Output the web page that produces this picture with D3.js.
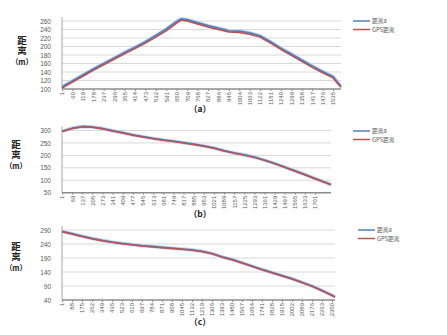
<!DOCTYPE html>
<html><head><meta charset="utf-8">
<script src="https://cdn.jsdelivr.net/npm/d3@7"></script>
<style>body{margin:0;background:#fff}svg{display:block}</style>
</head><body>
<svg id="c" width="447" height="335"></svg>
<script>
// ---------- data ----------
const seriesNames = ["距离a", "GPS距离"];
const yLabelMain = "距离";
const yLabelUnit = "（m）";

// (a)
const aTicks = [1,60,119,178,237,296,355,414,473,532,591,650,709,768,827,886,945,1004,1063,1122,1181,1240,1299,1358,1417,1476,1535];
const aIdx   = [1,60,119,178,237,296,355,414,473,532,591,650,676,709,768,827,886,945,1004,1063,1122,1181,1240,1299,1358,1417,1476,1535,1580];
const aDist  = [105,119,133,147,160,173,186,198,211,226,241,259,265,263,256,249,243,237,236,232,225,211,196,182,168,154,141,129,106];
const aGps   = [102,116,130,144,157,170,183,195,208,222,237,255,262,260,253,246,240,234,233,229,222,208,193,179,165,151,138,126,104];
const aYTicks = [100,120,140,160,180,200,220,240,260];

// (b)
const bTicks = [1,69,137,205,273,341,409,477,545,613,681,749,817,885,953,1021,1089,1157,1225,1293,1361,1429,1497,1565,1633,1701];
const bIdx   = [1,69,137,205,273,341,409,477,545,613,681,749,817,885,953,1021,1089,1157,1225,1293,1361,1429,1497,1565,1633,1701,1808];
const bDist  = [297,309,316,314,308,299,291,282,275,268,262,257,251,245,238,230,219,210,202,193,181,168,153,138,123,107,83];
const bGps   = [296,308,315,313,307,298,290,281,274,267,261,256,250,244,237,229,218,209,201,192,180,167,152,137,122,106,82];
const bYTicks = [50,100,150,200,250,300];

// (c)
const cTicks = [1,88,175,262,349,436,523,610,697,784,871,958,1045,1132,1219,1306,1393,1480,1567,1654,1741,1828,1915,2002,2089,2176,2263,2350];
const cIdx   = [1,88,175,262,349,436,523,610,697,784,871,958,1045,1132,1219,1306,1393,1480,1567,1654,1741,1828,1915,2002,2089,2176,2263,2350,2376];
const cDist  = [285,277,268,260,253,247,242,238,234,231,228,225,222,219,214,206,194,185,173,161,149,138,127,116,103,90,74,57,51];
const cGps   = [284,276,267,259,252,246,241,237,233,230,227,224,221,218,213,205,193,184,172,160,148,137,126,115,102,89,73,56,50];
const cYTicks = [40,90,140,190,240,290];

const captions = ["（a）", "（b）", "（c）"];

// ---------- layout ----------
const panels = [
  {ticks:aTicks, idx:aIdx, dist:aDist, gps:aGps, yt:aYTicks, x0:62, x1:341, yTop:21, yBot:89, cap:captions[0], capY:112, labX:22, labY:41, legX:353, legY:21},
  {ticks:bTicks, idx:bIdx, dist:bDist, gps:bGps, yt:bYTicks, x0:62, x1:331, yTop:130.5, yBot:192.7, cap:captions[1], capY:217, labX:16, labY:145, legX:353, legY:131},
  {ticks:cTicks, idx:cIdx, dist:cDist, gps:cGps, yt:cYTicks, x0:62, x1:335, yTop:230, yBot:300, cap:captions[2], capY:325, labX:16, labY:247, legX:358, legY:230}
];

const svg = d3.select("#c");
const blue = "#4f81c7", blueGlow = "#c3d5ee", red = "#c0504d";
const txt = "#595959";

panels.forEach(p => {
  const n = p.idx[p.idx.length-1];
  const x = d3.scaleLinear().domain([1, n]).range([p.x0, p.x1]);
  const y = d3.scaleLinear().domain([p.yt[0], p.yt[p.yt.length-1]]).range([p.yBot, p.yTop]);
  const g = svg.append("g");

  // gridlines
  g.selectAll("line.grid").data(p.yt.slice(1)).join("line")
    .attr("x1", p.x0).attr("x2", p.x1)
    .attr("y1", d => y(d)).attr("y2", d => y(d))
    .attr("stroke", "#d9d9d9").attr("stroke-width", 1);

  // y axis
  const ya = d3.axisLeft(y).tickValues(p.yt).tickSize(0).tickPadding(11);
  const yg = g.append("g").attr("transform", `translate(${p.x0},0)`).call(ya);
  yg.select(".domain").attr("stroke", "#a6a6a6").attr("d", `M0,${p.yBot}V${p.yTop-4}`);
  yg.selectAll("text").attr("fill", txt).style("font-family", "Liberation Sans, Arial, sans-serif").style("font-size", "6.5px");

  // x axis
  const xa = d3.axisBottom(x).tickValues(p.ticks).tickSize(2).tickFormat(d3.format("d"));
  const xg = g.append("g").attr("transform", `translate(0,${p.yBot})`).call(xa);
  xg.select(".domain").attr("stroke", "#8c8c8c").attr("stroke-width", 1.6).attr("d", `M${p.x0},0H${p.x1}`);
  xg.selectAll(".tick line").attr("stroke", "#8c8c8c");
  xg.selectAll("text")
    .attr("fill", txt).style("font-family", "Liberation Sans, Arial, sans-serif").style("font-size", "6px")
    .attr("text-anchor", "end").attr("dy", "0.32em")
    .attr("transform", "translate(0,3) rotate(-90)").attr("x", 0).attr("y", 0);

  // lines
  const pts = arr => arr.map((v, i) => [p.idx[i], v]);
  const line = d3.line().x(d => x(d[0])).y(d => y(d[1]));
  g.append("path").attr("d", line(pts(p.dist))).attr("fill", "none").attr("stroke", blueGlow).attr("stroke-width", 3.6).attr("stroke-linejoin", "round");
  g.append("path").attr("d", line(pts(p.dist))).attr("fill", "none").attr("stroke", blue).attr("stroke-width", 1.8).attr("stroke-linejoin", "round");
  g.append("path").attr("d", line(pts(p.gps))).attr("fill", "none").attr("stroke", red).attr("stroke-width", 1.5).attr("stroke-linejoin", "round");

  // y label (vertical 距离 + unit)
  g.append("text")
    .attr("x", p.labX).attr("y", p.labY - 5)
    .style("writing-mode", "vertical-rl").style("text-orientation", "upright")
    .style("font-family", "Noto Sans CJK SC, sans-serif").style("font-weight", "bold")
    .style("font-size", "9.5px").style("letter-spacing", "0.5px").attr("fill", "#222")
    .text(yLabelMain);
  g.append("text")
    .attr("x", p.labX).attr("y", p.labY + 21).attr("dy", "0.35em")
    .attr("text-anchor", "middle")
    .style("font-family", "Noto Sans CJK SC, sans-serif").style("font-weight", "bold")
    .style("font-size", "7.5px").attr("fill", "#222")
    .text(yLabelUnit);

  // caption
  g.append("text").attr("x", 200).attr("y", p.capY).attr("text-anchor", "middle")
    .style("font-family", "Noto Sans CJK SC, sans-serif").style("font-weight", "bold").style("font-size", "8.5px")
    .attr("fill", "#222").text(p.cap);

  // legend
  const lg = g.append("g").attr("transform", `translate(${p.legX},${p.legY})`);
  [blue, red].forEach((c, i) => {
    lg.append("line").attr("x1", 0).attr("x2", 17).attr("y1", i * 8.5).attr("y2", i * 8.5)
      .attr("stroke", c).attr("stroke-width", 1.5);
    lg.append("text").attr("x", 19).attr("y", i * 8.5).attr("dy", "0.35em")
      .style("font-family", "Noto Sans CJK SC, sans-serif").style("font-size", "5.8px")
      .attr("fill", txt).text(seriesNames[i]);
  });
});
</script>
</body></html>
